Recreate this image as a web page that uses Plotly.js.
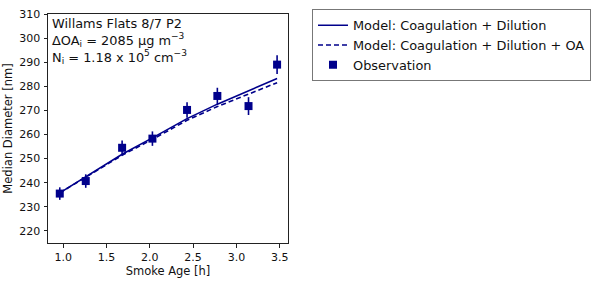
<!DOCTYPE html>
<html><head><meta charset="utf-8">
<script src="https://cdn.plot.ly/plotly-3.0.1.min.js"></script>
<style>body{margin:0;padding:0;background:#fff}#c{width:600px;height:281px}</style>
</head><body><div id="c"></div>
<script>
const obsAge = [0.96, 1.26, 1.68, 2.03, 2.43, 2.78, 3.14, 3.47];
const obsDiam = [235.5, 240.7, 254.5, 258.3, 270.2, 276.0, 271.8, 289.0];
const obsErr = [2.6, 2.8, 3.0, 3.0, 3.2, 3.4, 3.7, 3.9];
const modelAge = [0.96, 1.26, 1.68, 2.03, 2.43, 2.78, 3.14, 3.47];
const modelCoagDil = [235.8, 242.6, 251.8, 258.6, 266.6, 272.6, 278.2, 283.2];
const modelCoagDilOA = [235.8, 242.4, 251.4, 258.0, 265.9, 271.6, 276.8, 281.5];
const xTicks = [1.0, 1.5, 2.0, 2.5, 3.0, 3.5];
const yTicks = [220, 230, 240, 250, 260, 270, 280, 290, 300, 310];
const navy = '#00008b';
const font = 'DejaVu Sans, sans-serif';

const data = [
  {x: modelAge, y: modelCoagDil, mode: 'lines', name: 'Model: Coagulation + Dilution',
   line: {color: navy, width: 1.6}},
  {x: modelAge, y: modelCoagDilOA, mode: 'lines', name: 'Model: Coagulation + Dilution + OA',
   line: {color: navy, width: 1.6, dash: '5px,3px'}},
  {x: obsAge, y: obsDiam, mode: 'markers', name: 'Observation',
   marker: {color: navy, symbol: 'square', size: 8},
   error_y: {type: 'data', array: obsErr, color: navy, thickness: 1.6, width: 0}}
];

const axBase = {showgrid: false, zeroline: false, showline: true, mirror: true,
  linecolor: '#222', linewidth: 1, ticks: 'outside', ticklen: 3.5, tickwidth: 1, tickcolor: '#222',
  tickfont: {family: font, size: 11, color: '#111'}};

const layout = {
  width: 600, height: 281,
  margin: {l: 48, r: 311, t: 9, b: 38},
  paper_bgcolor: '#fff', plot_bgcolor: '#fff',
  font: {family: font, color: '#111'},
  xaxis: Object.assign({}, axBase, {range: [0.824, 3.596], tickvals: xTicks,
    ticktext: xTicks.map(v => v.toFixed(1)),
    title: {text: 'Smoke Age [h]', font: {family: font, size: 11.5}, standoff: 3}}),
  yaxis: Object.assign({}, axBase, {range: [215, 310], tickvals: yTicks, ticklabelstandoff: 1,
    title: {text: 'Median Diameter [nm]', font: {family: font, size: 11.5}, standoff: 4}}),
  legend: {x: 1.1, y: 1.02, xanchor: 'left', yanchor: 'top', bordercolor: '#777', borderwidth: 1,
    bgcolor: '#fff', font: {family: font, size: 12.9, color: '#111'}, tracegroupgap: 0},
  showlegend: true,
  annotations: [
    {xref: 'paper', yref: 'paper', x: 0.008, y: 1.0, xanchor: 'left', yanchor: 'top', showarrow: false,
     align: 'left', font: {family: font, size: 12.9, color: '#111'},
     text: 'Willams Flats 8/7 P2<br>ΔOA<sub>i</sub> = 2085 μg m<sup>−3</sup><br>N<sub>i</sub> = 1.18 x 10<sup>5</sup> cm<sup>−3</sup>'}
  ]
};
Plotly.newPlot('c', data, layout, {displayModeBar: false, staticPlot: true});
</script></body></html>
